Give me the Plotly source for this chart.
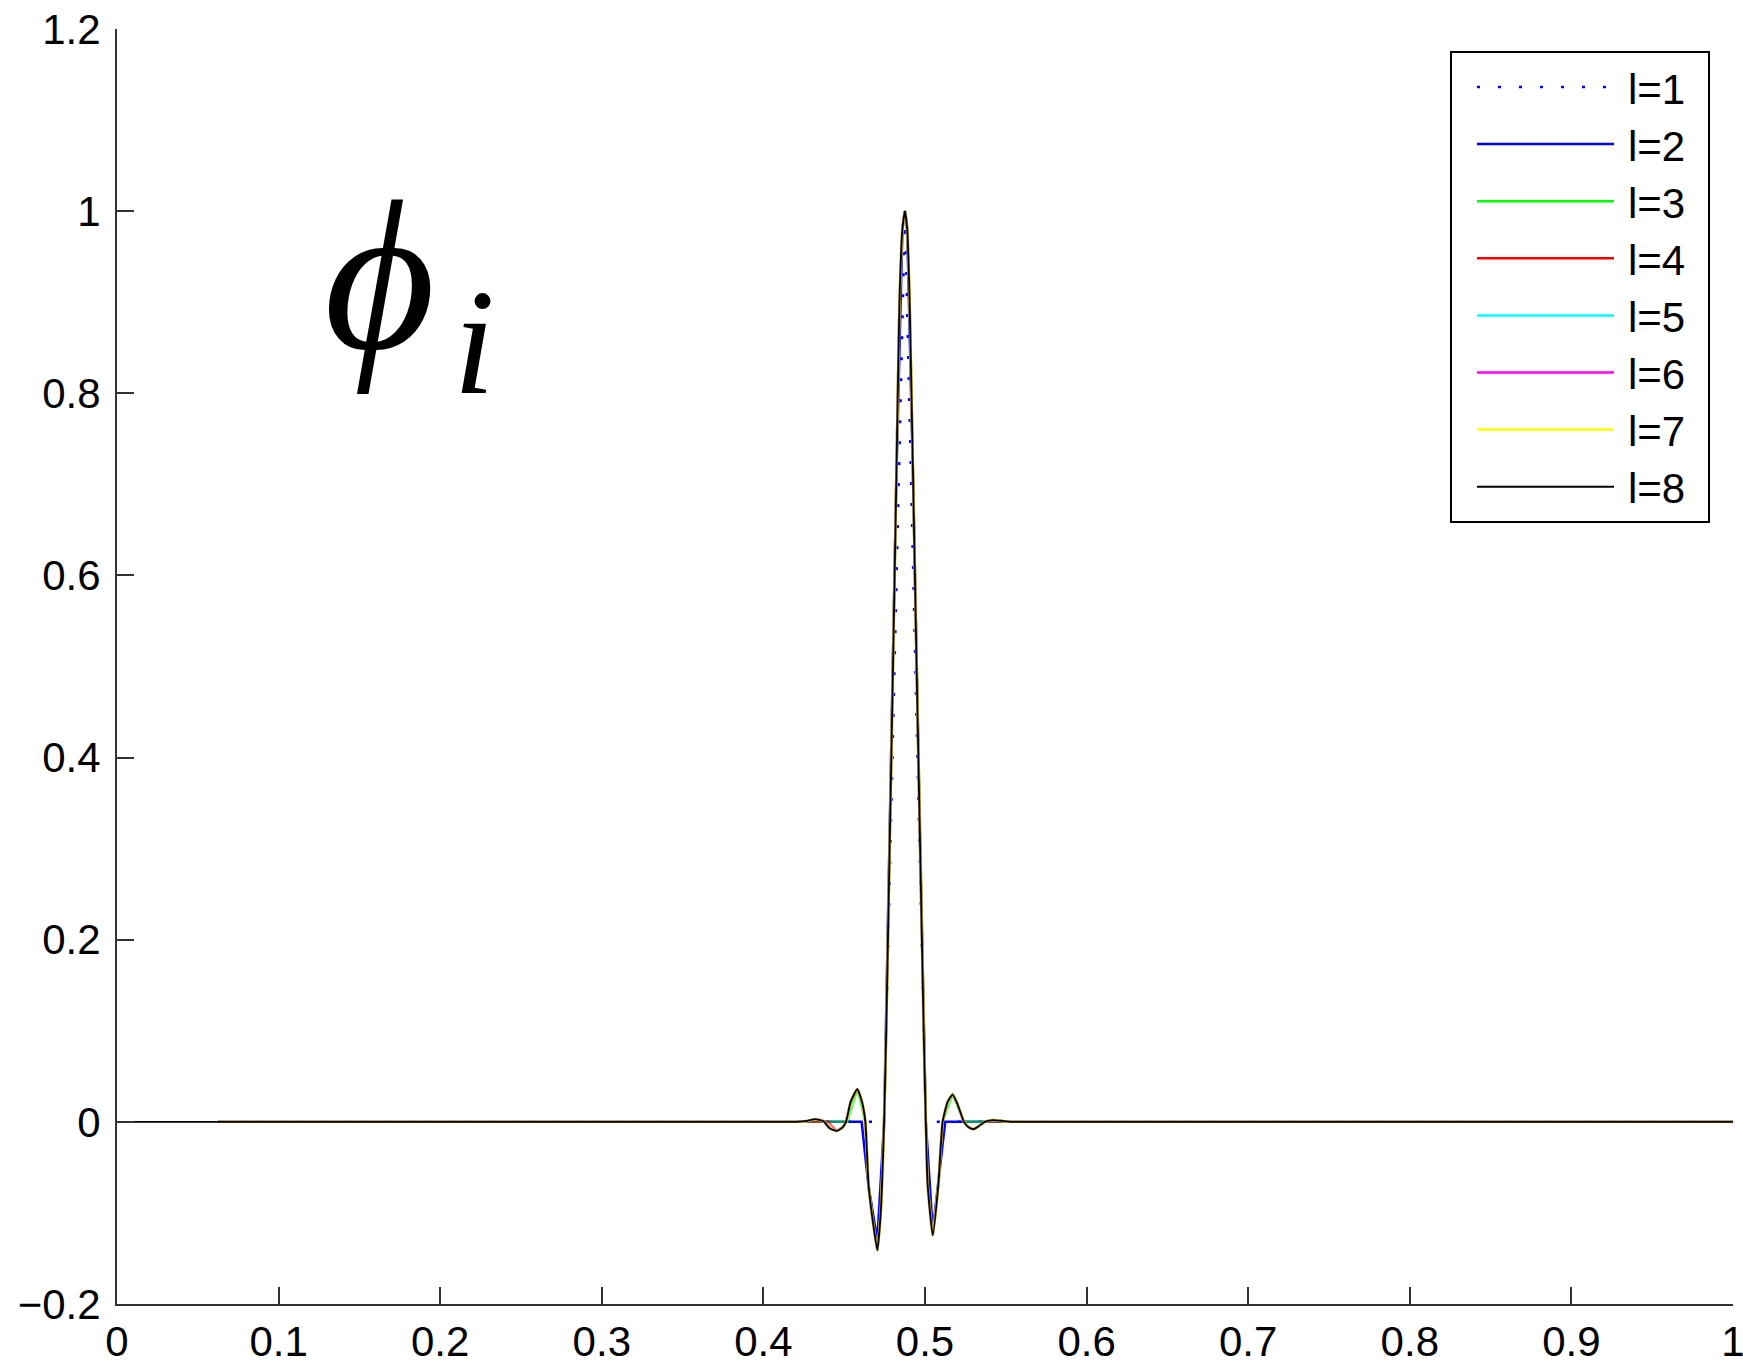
import plotly.graph_objects as go

# ---------------- data ----------------
level_names = ["l=1", "l=2", "l=3", "l=4", "l=5", "l=6", "l=7", "l=8"]

# l=1 : coarsest (only the main lobe)
x_l1 = [0.0625, 0.4695, 0.4747, 0.4876, 0.5005, 0.5060, 1.0]
y_l1 = [0.0, 0.0, 0.0, 1.0, 0.0, 0.0, 0.0]

# l=2 : main lobe + the two negative minima
x_l2 = [0.0625, 0.4608, 0.4650, 0.4705, 0.4747, 0.4781, 0.4822, 0.4860, 0.4876,
        0.4890, 0.4927, 0.4970, 0.5005, 0.5048, 0.5085, 0.5125, 1.0]
y_l2 = [0.0, 0.0, -0.07, -0.13, 0.0, 0.30, 0.70, 0.98, 1.0,
        0.98, 0.70, 0.30, 0.0, -0.12, -0.06, 0.0, 0.0]

# l=3 : + side maxima
x_l3 = [0.0625, 0.4520, 0.4581, 0.4631, 0.4650, 0.4674, 0.4705, 0.4726, 0.4747,
        0.4760, 0.4781, 0.4802, 0.4822, 0.4842, 0.4860, 0.4876, 0.4890, 0.4905,
        0.4927, 0.4948, 0.4970, 0.4992, 0.5005, 0.5016, 0.5048, 0.5083, 0.5109,
        0.5171, 0.5241, 1.0]
y_l3 = [0.0, 0.0, 0.036, 0.0, -0.068, -0.105, -0.141, -0.10, 0.0,
        0.10, 0.30, 0.50, 0.70, 0.90, 0.98, 1.0, 0.98, 0.90,
        0.70, 0.50, 0.30, 0.10, 0.0, -0.068, -0.1245, -0.068, 0.0,
        0.030, 0.0, 0.0]

# l=4 : + small negative dips
x_l4 = [0.0625, 0.4400, 0.4453, 0.4490, 0.4511, 0.4540, 0.4581, 0.4610, 0.4631,
        0.4650, 0.4674, 0.4705, 0.4726, 0.4747, 0.4760, 0.4781, 0.4802, 0.4822,
        0.4842, 0.4860, 0.4876, 0.4890, 0.4905, 0.4927, 0.4948, 0.4970, 0.4992,
        0.5005, 0.5016, 0.5048, 0.5083, 0.5109, 0.5140, 0.5171, 0.5200, 0.5241,
        0.5270, 0.5299, 0.5330, 0.5370, 1.0]
y_l4 = [0.0, 0.0, -0.010, -0.006, 0.0, 0.022, 0.036, 0.022, 0.0,
        -0.068, -0.105, -0.141, -0.10, 0.0, 0.10, 0.30, 0.50, 0.70,
        0.90, 0.98, 1.0, 0.98, 0.90, 0.70, 0.50, 0.30, 0.10,
        0.0, -0.068, -0.1245, -0.068, 0.0, 0.022, 0.030, 0.020, 0.0,
        -0.006, -0.008, -0.005, 0.0, 0.0]

# l=5 .. l=8 : finest (identical shape, all small ripples)
x_fine = [0.4200, 0.4270, 0.4320, 0.4370, 0.4410, 0.4453, 0.4490, 0.4511, 0.4540,
          0.4581, 0.4610, 0.4631, 0.4650, 0.4674, 0.4705, 0.4726, 0.4747, 0.4760,
          0.4781, 0.4802, 0.4822, 0.4842, 0.4860, 0.4876, 0.4890, 0.4905, 0.4927,
          0.4948, 0.4970, 0.4992, 0.5005, 0.5016, 0.5048, 0.5083, 0.5109, 0.5140,
          0.5171, 0.5200, 0.5241, 0.5270, 0.5299, 0.5330, 0.5370, 0.5423, 0.5480,
          0.5530]
y_fine = [0.0, 0.001, 0.003, 0.001, -0.007, -0.010, -0.006, 0.0, 0.022,
          0.036, 0.022, 0.0, -0.068, -0.105, -0.141, -0.10, 0.0, 0.10,
          0.30, 0.50, 0.70, 0.90, 0.98, 1.0, 0.98, 0.90, 0.70,
          0.50, 0.30, 0.10, 0.0, -0.068, -0.1245, -0.068, 0.0, 0.022,
          0.030, 0.020, 0.0, -0.006, -0.008, -0.005, 0.0, 0.002, 0.001,
          0.0]
x_l5 = [0.0625] + x_fine + [1.0]
y_l5 = [0.0] + y_fine + [0.0]
x_l6 = list(x_l5)
y_l6 = list(y_l5)
x_l7 = list(x_l5)
y_l7 = list(y_l5)
x_l8 = [0.0] + x_fine + [1.0]
y_l8 = [0.0] + y_fine + [0.0]

x_ticks = [0, 0.1, 0.2, 0.3, 0.4, 0.5, 0.6, 0.7, 0.8, 0.9, 1]
y_ticks = [-0.2, 0, 0.2, 0.4, 0.6, 0.8, 1, 1.2]

# ---------------- styling ----------------
xs = [x_l1, x_l2, x_l3, x_l4, x_l5, x_l6, x_l7, x_l8]
ys = [y_l1, y_l2, y_l3, y_l4, y_l5, y_l6, y_l7, y_l8]
colors = ["#0000ff", "#0000ff", "#00ff00", "#ff0000", "#00ffff", "#ff00ff", "#ffff00", "#000000"]
dashes = ["3px,18px", "solid", "solid", "solid", "solid", "solid", "solid", "solid"]
widths = [2.5, 2.5, 2.5, 2.5, 2.5, 2.5, 3, 1.8]
opac = [1.0, 1.0, 0.6, 0.55, 0.55, 0.55, 0.55, 1.0]
shapes_ = ["linear", "linear", "linear", "linear", "spline", "spline", "spline", "spline"]

FONT = "Liberation Sans, Arial, Helvetica, sans-serif"

# plot-area geometry in pixels (for the hand-drawn legend box)
W, H = 1743, 1367
ML, MR, MT, MB = 117, 10, 29, 63
PW, PH = W - ML - MR, H - MT - MB


def px(xpix):
    return (xpix - ML) / PW


def py(ypix):
    return (H - MB - ypix) / PH


fig = go.Figure()
for name, x, y, c, d, w, s, o in zip(level_names, xs, ys, colors, dashes, widths, shapes_, opac):
    line = dict(color=c, dash=d, width=w, shape=s)
    if s == "spline":
        line["smoothing"] = 0.5
    fig.add_trace(go.Scatter(x=x, y=y, mode="lines", name=name, line=line,
                             opacity=o, showlegend=False))

# phi_i label
fig.add_annotation(
    x=0.127, y=0.912, xref="x", yref="y", xanchor="left", yanchor="middle",
    text="<i>ϕ\u200a<sub>i</sub></i>", showarrow=False,
    font=dict(family="Liberation Serif, DejaVu Serif, serif", size=215, color="black"),
)

# legend (box + samples + labels)
shapes = [dict(type="rect", xref="paper", yref="paper",
               x0=px(1451), x1=px(1709), y0=py(522), y1=py(52),
               line=dict(color="black", width=2), fillcolor="white", layer="above")]
row0, row_step = 87, 57.1
for k, (name, c, d) in enumerate(zip(level_names, colors, dashes)):
    yy = py(row0 + k * row_step)
    shapes.append(dict(type="line", xref="paper", yref="paper",
                       x0=px(1477), x1=px(1614), y0=yy, y1=yy,
                       line=dict(color=c, width=2.5 if k < 7 else 2, dash=d), layer="above"))
    fig.add_annotation(x=px(1626), y=py(row0 + k * row_step + 2), xref="paper", yref="paper",
                       xanchor="left", yanchor="middle", text=name, showarrow=False,
                       font=dict(family=FONT, size=42, color="black"))

axis_common = dict(
    showgrid=False, zeroline=False, showline=True, linecolor="#333333", linewidth=2,
    ticks="inside", ticklen=17, tickwidth=2, tickcolor="#333333",
    tickfont=dict(family=FONT, size=42, color="black"), mirror=False,
    ticklabeloverflow="allow", automargin=False,
)

fig.update_layout(
    width=W, height=H,
    margin=dict(l=ML, r=MR, t=MT, b=MB, autoexpand=False),
    paper_bgcolor="white", plot_bgcolor="white",
    font=dict(family=FONT, size=42, color="black"),
    xaxis=dict(range=[0, 1], tickvals=x_ticks, ticktext=[f"{v:g}" for v in x_ticks],
               ticklabelstandoff=0, **axis_common),
    yaxis=dict(range=[-0.2, 1.2], tickvals=y_ticks,
               ticktext=[("\u2212" + f"{abs(v):g}") if v < 0 else f"{v:g}" for v in y_ticks],
               ticklabelstandoff=6, **axis_common),
    shapes=shapes,
    showlegend=False,
)

fig.write_html("out.html")
